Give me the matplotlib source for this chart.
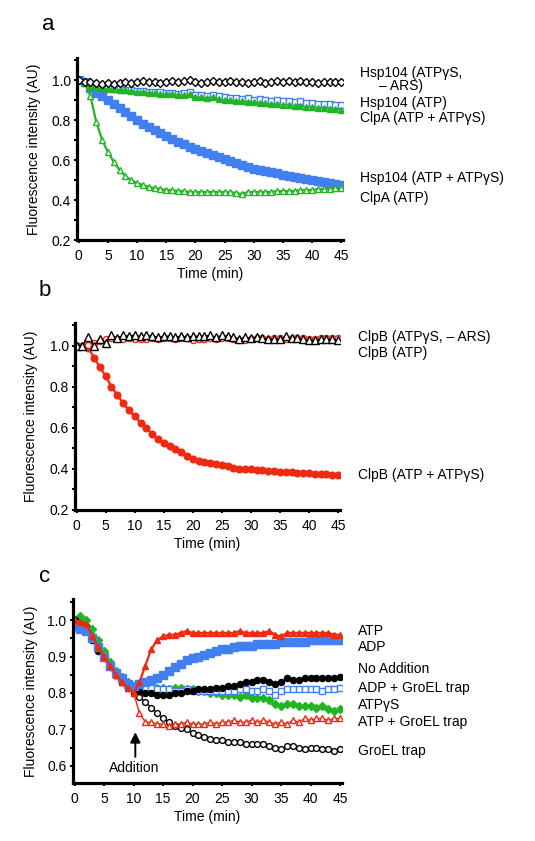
import matplotlib
matplotlib.use('Agg')
import matplotlib.pyplot as plt
from matplotlib.ticker import MultipleLocator

plt.rcParams['font.family'] = ['Liberation Sans', 'DejaVu Sans']
plt.rcParams['font.size'] = 10

# time axis (min), one reading per minute
time = list(range(46))

# ---- panel a ----
hsp_atpgs = [1.0, 0.99, 0.99, 0.985, 0.98, 0.985, 0.98, 0.985, 0.99, 0.985,
             0.99, 0.995, 0.99, 0.99, 0.985, 0.99, 0.995, 0.99, 0.995, 1.0,
             0.99, 0.985, 0.99, 0.995, 0.99, 0.99, 0.995, 0.99, 0.99, 0.985,
             0.99, 0.995, 0.985, 0.99, 0.995, 0.99, 0.995, 0.99, 0.995, 0.99,
             0.99, 0.985, 0.99, 0.99, 0.99, 0.99]
hsp_atp = [1.0, 0.99, 0.98, 0.97, 0.965, 0.96, 0.955, 0.955, 0.95, 0.95,
           0.945, 0.945, 0.94, 0.94, 0.94, 0.935, 0.935, 0.93, 0.935, 0.94,
           0.925, 0.925, 0.92, 0.925, 0.92, 0.915, 0.91, 0.91, 0.905, 0.91,
           0.9, 0.905, 0.9, 0.895, 0.9, 0.895, 0.895, 0.89, 0.895, 0.885,
           0.885, 0.88, 0.88, 0.88, 0.875, 0.875]
clpa_mix = [1.0, 0.985, 0.97, 0.965, 0.96, 0.955, 0.955, 0.95, 0.95, 0.945,
            0.94, 0.94, 0.935, 0.935, 0.93, 0.93, 0.93, 0.925, 0.925, 0.93,
            0.915, 0.915, 0.91, 0.915, 0.905, 0.9, 0.9, 0.895, 0.895, 0.89,
            0.89, 0.885, 0.885, 0.88, 0.88, 0.875, 0.875, 0.87, 0.87, 0.865,
            0.865, 0.86, 0.86, 0.855, 0.855, 0.85]
hsp_mix = [1.0, 0.99, 0.96, 0.935, 0.92, 0.9, 0.88, 0.86, 0.84, 0.82,
           0.8, 0.78, 0.765, 0.75, 0.735, 0.72, 0.705, 0.69, 0.68, 0.665,
           0.655, 0.645, 0.635, 0.625, 0.615, 0.605, 0.595, 0.585, 0.575, 0.565,
           0.555, 0.55, 0.545, 0.54, 0.535, 0.525, 0.52, 0.515, 0.51, 0.505,
           0.5, 0.495, 0.49, 0.485, 0.48, 0.475]
clpa_atp = [1.0, 0.99, 0.92, 0.79, 0.70, 0.64, 0.59, 0.55, 0.52, 0.50,
            0.485, 0.475, 0.465, 0.46, 0.455, 0.45, 0.45, 0.445, 0.445, 0.44,
            0.44, 0.44, 0.44, 0.44, 0.44, 0.44, 0.44, 0.435, 0.43, 0.44,
            0.44, 0.44, 0.44, 0.44, 0.445, 0.445, 0.445, 0.445, 0.45, 0.45,
            0.45, 0.455, 0.455, 0.455, 0.46, 0.46]

# ---- panel b ----
clpb_atpgs = [1.0, 1.0, 1.04, 1.0, 1.03, 1.01, 1.05, 1.035, 1.05, 1.045,
              1.05, 1.045, 1.05, 1.045, 1.04, 1.045, 1.045, 1.04, 1.045, 1.04,
              1.045, 1.045, 1.045, 1.05, 1.04, 1.05, 1.045, 1.04, 1.03, 1.04,
              1.035, 1.04, 1.035, 1.03, 1.03, 1.03, 1.045, 1.035, 1.035, 1.03,
              1.025, 1.025, 1.03, 1.03, 1.03, 1.025]
clpb_atp = [1.0, 1.0, 1.005, 1.01, 1.02, 1.03, 1.035, 1.03, 1.03, 1.035,
            1.03, 1.03, 1.03, 1.035, 1.03, 1.035, 1.035, 1.03, 1.035, 1.035,
            1.025, 1.03, 1.03, 1.035, 1.03, 1.035, 1.035, 1.03, 1.025, 1.025,
            1.03, 1.035, 1.035, 1.03, 1.035, 1.035, 1.03, 1.035, 1.035, 1.035,
            1.03, 1.03, 1.035, 1.035, 1.035, 1.035]
clpb_mix = [1.0, 1.0, 0.99, 0.94, 0.895, 0.85, 0.80, 0.76, 0.72, 0.685,
            0.655, 0.625, 0.60, 0.57, 0.545, 0.525, 0.51, 0.495, 0.48, 0.465,
            0.45, 0.44, 0.435, 0.43, 0.425, 0.42, 0.415, 0.405, 0.40, 0.40,
            0.40, 0.395, 0.395, 0.39, 0.39, 0.385, 0.385, 0.385, 0.38, 0.38,
            0.38, 0.375, 0.375, 0.375, 0.37, 0.37]

# ---- panel c ----
atp_c = [1.0, 0.995, 0.99, 0.955, 0.925, 0.9, 0.875, 0.85, 0.83, 0.815,
         0.80, 0.83, 0.875, 0.92, 0.945, 0.955, 0.96, 0.96, 0.965, 0.97,
         0.965, 0.965, 0.965, 0.965, 0.965, 0.965, 0.965, 0.965, 0.97, 0.965,
         0.965, 0.965, 0.965, 0.97, 0.96, 0.955, 0.965, 0.965, 0.965, 0.965,
         0.965, 0.965, 0.965, 0.965, 0.96, 0.96]
adp_c = [0.985, 0.975, 0.97, 0.95, 0.925, 0.9, 0.875, 0.855, 0.84, 0.825,
         0.82, 0.825, 0.83, 0.835, 0.84, 0.85, 0.86, 0.87, 0.88, 0.89,
         0.895, 0.9, 0.905, 0.91, 0.915, 0.92, 0.92, 0.925, 0.93, 0.93,
         0.93, 0.935, 0.935, 0.935, 0.935, 0.94, 0.94, 0.94, 0.94, 0.94,
         0.945, 0.945, 0.945, 0.945, 0.945, 0.945]
noadd_c = [1.0, 0.99, 0.98, 0.945, 0.915, 0.895, 0.87, 0.85, 0.83, 0.82,
           0.81, 0.805, 0.80, 0.80, 0.795, 0.795, 0.795, 0.80, 0.80, 0.805,
           0.805, 0.81, 0.81, 0.81, 0.815, 0.815, 0.82, 0.82, 0.825, 0.83,
           0.83, 0.835, 0.835, 0.83, 0.825, 0.83, 0.84, 0.835, 0.835, 0.84,
           0.84, 0.84, 0.84, 0.84, 0.84, 0.845]
adp_trap_c = [0.99, 0.98, 0.975, 0.95, 0.925, 0.9, 0.875, 0.855, 0.84, 0.825,
              0.815, 0.815, 0.815, 0.815, 0.81, 0.81, 0.81, 0.805, 0.805, 0.81,
              0.805, 0.805, 0.805, 0.805, 0.805, 0.805, 0.805, 0.805, 0.81, 0.81,
              0.805, 0.805, 0.81, 0.805, 0.795, 0.805, 0.81, 0.81, 0.81, 0.81,
              0.81, 0.81, 0.805, 0.81, 0.81, 0.815]
atpgs_c = [1.0, 1.01, 1.0, 0.975, 0.945, 0.915, 0.885, 0.86, 0.845, 0.83,
           0.82, 0.82, 0.82, 0.815, 0.815, 0.815, 0.81, 0.815, 0.815, 0.81,
           0.81, 0.805, 0.805, 0.80, 0.80, 0.795, 0.795, 0.795, 0.79, 0.795,
           0.785, 0.785, 0.785, 0.78, 0.77, 0.765, 0.77, 0.77, 0.765, 0.765,
           0.765, 0.76, 0.765, 0.755, 0.75, 0.755]
atp_trap_c = [1.0, 0.995, 0.99, 0.955, 0.925, 0.9, 0.875, 0.85, 0.83, 0.815,
              0.80, 0.745, 0.72, 0.72, 0.715, 0.715, 0.71, 0.715, 0.715, 0.72,
              0.715, 0.715, 0.715, 0.72, 0.715, 0.72, 0.72, 0.725, 0.72, 0.72,
              0.725, 0.72, 0.725, 0.72, 0.715, 0.72, 0.715, 0.725, 0.72, 0.73,
              0.725, 0.73, 0.73, 0.725, 0.73, 0.73]
groel_c = [1.0, 0.985, 0.975, 0.945, 0.92, 0.895, 0.87, 0.85, 0.83, 0.815,
           0.80, 0.79, 0.775, 0.76, 0.745, 0.73, 0.72, 0.71, 0.705, 0.70,
           0.69, 0.685, 0.68, 0.675, 0.67, 0.67, 0.665, 0.665, 0.665, 0.66,
           0.66, 0.66, 0.66, 0.655, 0.65, 0.645, 0.655, 0.655, 0.65, 0.645,
           0.65, 0.65, 0.645, 0.645, 0.64, 0.645]

BLUE = '#4080f0'
GREEN = '#22b522'
RED = '#f02a10'
BLACK = 'black'
FS = 10


def style_axes(ax, ymin, ymax, ymajor, yminor):
    for s in ['top', 'right']:
        ax.spines[s].set_visible(False)
    for s in ['left', 'bottom']:
        ax.spines[s].set_linewidth(2.3)
    ax.set_xlim(-0.3, 45.3)
    ax.set_ylim(ymin, ymax)
    ax.xaxis.set_major_locator(MultipleLocator(5))
    ax.yaxis.set_major_locator(MultipleLocator(ymajor))
    ax.yaxis.set_minor_locator(MultipleLocator(yminor))
    ax.tick_params(which='both', direction='out', length=2.5, width=1.5, pad=2,
                   labelsize=FS)
    ax.tick_params(axis='x', pad=4)
    ax.set_xlabel('Time (min)', labelpad=3, fontsize=FS)
    ax.set_ylabel('Fluorescence intensity (AU)', fontsize=FS)


def series(ax, y, marker, color, filled, ms=4.5, lw=1.0, z=2):
    ax.plot(time, y, marker=marker, color=color, lw=lw, ms=ms,
            mfc=color if filled else 'white', mec=color, mew=1.0, zorder=z)


fig = plt.figure(figsize=(5.35, 8.41), dpi=100)

# panel a
ax1 = fig.add_axes([0.144, 0.7146, 0.497, 0.2164])
series(ax1, hsp_mix, 's', BLUE, True, ms=5.3)
series(ax1, hsp_atp, 's', BLUE, False, ms=4.6)
series(ax1, clpa_mix, '^', GREEN, True, ms=4.8)
series(ax1, clpa_atp, '^', GREEN, False, ms=4.8, lw=1.6)
series(ax1, hsp_atpgs, 'D', BLACK, False, ms=3.8)
style_axes(ax1, 0.2, 1.11, 0.2, 0.1)
ax1.yaxis.set_label_coords(-0.135, 0.5)

# panel b
ax2 = fig.add_axes([0.140, 0.3936, 0.495, 0.2224])
series(ax2, clpb_mix, 'o', RED, True, ms=4.8, lw=1.6)
series(ax2, clpb_atp, 'o', RED, False, ms=4.4)
series(ax2, clpb_atpgs, '^', BLACK, False, ms=5.3)
style_axes(ax2, 0.2, 1.11, 0.2, 0.1)
ax2.yaxis.set_label_coords(-0.14, 0.5)

# panel c
ax3 = fig.add_axes([0.136, 0.069, 0.503, 0.2188])
series(ax3, groel_c, 'o', BLACK, False, ms=4.2, lw=0.8)
series(ax3, atp_trap_c, '^', RED, False, ms=5.0)
series(ax3, atpgs_c, 'D', GREEN, True, ms=4.2)
series(ax3, adp_trap_c, 's', BLUE, False, ms=4.8)
series(ax3, noadd_c, 'o', BLACK, True, ms=4.4)
series(ax3, adp_c, 's', BLUE, True, ms=5.3)
series(ax3, atp_c, '^', RED, True, ms=5.0, lw=1.6)
style_axes(ax3, 0.553, 1.058, 0.1, 0.05)
ax3.yaxis.set_label_coords(-0.13, 0.5)
ax3.annotate('', xy=(10.3, 0.70), xytext=(10.3, 0.617),
             arrowprops=dict(arrowstyle='-|>', color='black', lw=1.4,
                             mutation_scale=15))
ax3.text(10.1, 0.594, 'Addition', ha='center', va='center', fontsize=FS)

# panel letters
fig.text(48 / 535, 1 - 24 / 841, 'a', fontsize=16, ha='center', va='center')
fig.text(45 / 535, 1 - 291 / 841, 'b', fontsize=16, ha='center', va='center')
fig.text(45 / 535, 1 - 576 / 841, 'c', fontsize=16, ha='center', va='center')

# curve labels (pixel positions)
labels = [
    (360, 73, 'Hsp104 (ATPγS,'), (379, 86, '– ARS)'),
    (360, 103, 'Hsp104 (ATP)'), (360, 118, 'ClpA (ATP + ATPγS)'),
    (360, 178, 'Hsp104 (ATP + ATPγS)'), (360, 198, 'ClpA (ATP)'),
    (358, 337, 'ClpB (ATPγS, – ARS)'), (358, 353, 'ClpB (ATP)'),
    (358, 475, 'ClpB (ATP + ATPγS)'),
    (358, 631, 'ATP'), (358, 647, 'ADP'), (358, 669, 'No Addition'),
    (358, 688, 'ADP + GroEL trap'), (358, 705, 'ATPγS'),
    (358, 722, 'ATP + GroEL trap'), (358, 751, 'GroEL trap'),
]
for px, py, s in labels:
    fig.text(px / 535, 1 - py / 841, s, fontsize=FS, ha='left', va='center')

fig.savefig('out.png', dpi=100)
